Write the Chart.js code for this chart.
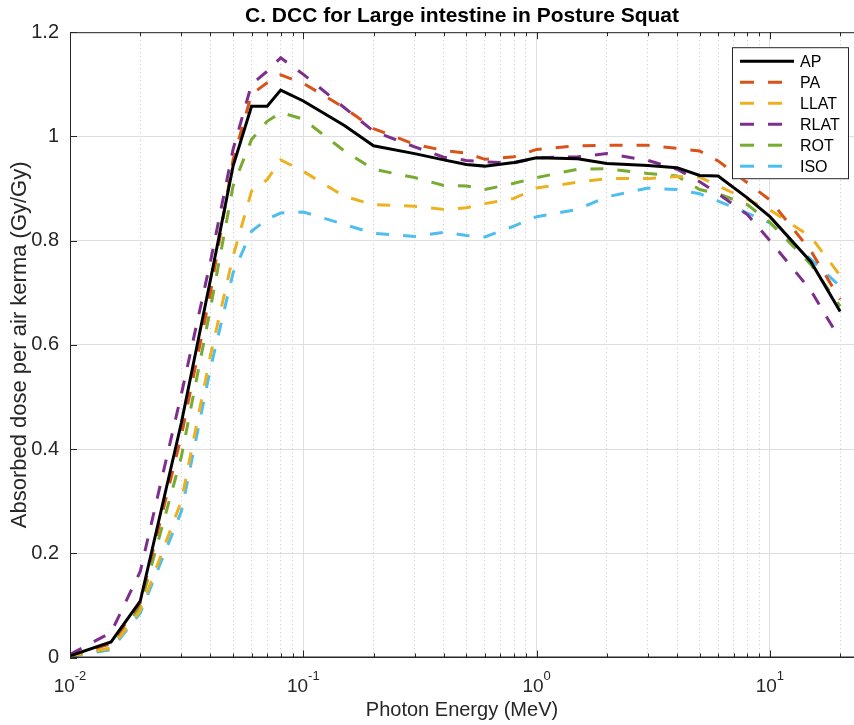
<!DOCTYPE html>
<html>
<head>
<meta charset="utf-8">
<title>DCC Large intestine - Squat</title>
<script src="https://cdn.jsdelivr.net/npm/chart.js@4.4.1/dist/chart.umd.min.js"></script>
<style>
  html, body { margin: 0; padding: 0; background: #ffffff; }
  #wrap { width: 854px; height: 725px; }
</style>
</head>
<body>
<div id="wrap"><canvas id="dccChart" width="854" height="725"></canvas></div>
<script>
// Photon energies (MeV)
const energies = [0.01, 0.015, 0.02, 0.03, 0.04, 0.05, 0.06, 0.07, 0.08, 0.1, 0.15, 0.2, 0.3, 0.4,
                  0.5, 0.6, 0.8, 1, 1.5, 2, 3, 4, 5, 6, 8, 10, 15, 20];

// Absorbed dose per air kerma (Gy/Gy), one array per irradiation geometry
const apValues   = [0.003, 0.030, 0.108, 0.450, 0.725, 0.943, 1.058, 1.058, 1.089, 1.068, 1.021, 0.982, 0.967, 0.955,
                    0.946, 0.943, 0.950, 0.959, 0.957, 0.948, 0.944, 0.940, 0.925, 0.924, 0.882, 0.846, 0.759, 0.664];
const paValues   = [0.004, 0.026, 0.105, 0.425, 0.700, 0.955, 1.081, 1.103, 1.118, 1.102, 1.055, 1.015, 0.985, 0.973,
                    0.968, 0.956, 0.961, 0.975, 0.982, 0.983, 0.983, 0.977, 0.972, 0.953, 0.911, 0.878, 0.780, 0.687];
const llatValues = [0.003, 0.018, 0.090, 0.300, 0.580, 0.770, 0.895, 0.917, 0.955, 0.933, 0.885, 0.869, 0.866, 0.860,
                    0.863, 0.871, 0.881, 0.901, 0.912, 0.919, 0.919, 0.923, 0.922, 0.905, 0.879, 0.859, 0.807, 0.733];
const rlatValues = [0.006, 0.048, 0.165, 0.505, 0.760, 0.975, 1.100, 1.125, 1.151, 1.119, 1.055, 1.010, 0.980, 0.960,
                    0.954, 0.951, 0.949, 0.959, 0.961, 0.967, 0.954, 0.937, 0.913, 0.890, 0.850, 0.800, 0.704, 0.610];
const rotValues  = [0.003, 0.018, 0.098, 0.385, 0.670, 0.905, 0.994, 1.029, 1.046, 1.033, 0.972, 0.937, 0.921, 0.906,
                    0.905, 0.898, 0.910, 0.921, 0.937, 0.938, 0.929, 0.924, 0.898, 0.890, 0.869, 0.835, 0.754, 0.674];
const isoValues  = [0.002, 0.015, 0.085, 0.280, 0.555, 0.738, 0.818, 0.841, 0.853, 0.855, 0.831, 0.814, 0.808, 0.816,
                    0.810, 0.807, 0.828, 0.846, 0.860, 0.884, 0.901, 0.898, 0.890, 0.876, 0.853, 0.834, 0.764, 0.712];

const seriesLabels = ['AP', 'PA', 'LLAT', 'RLAT', 'ROT', 'ISO'];

// Axis ticks
const decadeTicks = [0.01, 0.1, 1, 10];
const decadeExponents = ['-2', '-1', '0', '1'];
const yTickLabels = ['0', '0.2', '0.4', '0.6', '0.8', '1', '1.2'];

const X_MIN = 0.01;
const X_MAX = 22.93;
const FONT = '"Liberation Sans", Arial, Helvetica, sans-serif';
const AXIS_COLOR = '#262626';

// minor + major positions for the log axis (1..9 per decade)
const xGridValues = [];
decadeTicks.forEach(d => {
    for (let m = 1; m <= 9; m++) {
        const v = +(m * d).toPrecision(6);
        if (v <= X_MAX) xGridValues.push(v);
    }
});

function isDecade(v) {
    const l = Math.log10(v);
    return Math.abs(l - Math.round(l)) < 1e-6;
}

function toPoints(values) {
    return energies.map((e, i) => ({ x: e, y: values[i] }));
}

const styles = [
    { color: '#000000', dash: [] },
    { color: '#D95319', dash: [13, 14] },
    { color: '#EDB120', dash: [13, 14] },
    { color: '#7E2F8E', dash: [13, 14] },
    { color: '#77AC30', dash: [13, 14] },
    { color: '#4DBEEE', dash: [13, 14] }
];
const allValues = [apValues, paValues, llatValues, rlatValues, rotValues, isoValues];

const datasets = allValues.map((vals, i) => ({
    label: seriesLabels[i],
    data: toPoints(vals),
    borderColor: styles[i].color,
    borderDash: styles[i].dash,
    borderWidth: 3,
    pointRadius: 0,
    tension: 0,
    fill: false
}));

// ticks drawn inward + top box edge, like the original axes
const axesFrame = {
    id: 'axesFrame',
    afterDatasetsDraw(chart) {
        const { ctx, chartArea, scales: { x, y } } = chart;
        ctx.save();
        ctx.strokeStyle = AXIS_COLOR;
        ctx.lineWidth = 1;
        ctx.beginPath();
        ctx.moveTo(chartArea.left, chartArea.top + 0.5);
        ctx.lineTo(chartArea.right, chartArea.top + 0.5);
        ctx.moveTo(chartArea.left + 0.5, chartArea.top);
        ctx.lineTo(chartArea.left + 0.5, chartArea.bottom);
        ctx.moveTo(chartArea.left, chartArea.bottom - 0.5);
        ctx.lineTo(chartArea.right, chartArea.bottom - 0.5);
        x.ticks.forEach(t => {
            const px = Math.round(x.getPixelForValue(t.value)) + 0.5;
            const len = isDecade(t.value) ? 7 : 4;
            ctx.moveTo(px, chartArea.bottom);
            ctx.lineTo(px, chartArea.bottom - len);
            ctx.moveTo(px, chartArea.top);
            ctx.lineTo(px, chartArea.top + len);
        });
        y.ticks.forEach(t => {
            const py = Math.round(y.getPixelForValue(t.value)) + 0.5;
            ctx.moveTo(chartArea.left, py);
            ctx.lineTo(chartArea.left + 7, py);
        });
        ctx.stroke();
        ctx.restore();
    }
};

// 10^n labels with a raised exponent
const decadeLabels = {
    id: 'decadeLabels',
    afterDraw(chart) {
        const { ctx, chartArea, scales: { x } } = chart;
        ctx.save();
        ctx.fillStyle = AXIS_COLOR;
        ctx.textAlign = 'left';
        ctx.textBaseline = 'alphabetic';
        decadeTicks.forEach((v, i) => {
            const px = x.getPixelForValue(v);
            ctx.font = '19px ' + FONT;
            const baseW = ctx.measureText('10').width;
            ctx.font = '13px ' + FONT;
            const expW = ctx.measureText(decadeExponents[i]).width;
            const left = px - (baseW + expW) / 2;
            ctx.font = '19px ' + FONT;
            ctx.fillText('10', left, chartArea.bottom + 34);
            ctx.font = '13px ' + FONT;
            ctx.fillText(decadeExponents[i], left + baseW, chartArea.bottom + 22);
        });
        ctx.restore();
    }
};

// boxed legend inside the plot, top right
const boxLegend = {
    id: 'boxLegend',
    afterDraw(chart) {
        const { ctx, chartArea } = chart;
        const boxRight = chartArea.right - 5;
        const boxLeft = boxRight - 117;
        const boxTop = chartArea.top + 15;
        const boxH = 132;
        ctx.save();
        ctx.fillStyle = '#ffffff';
        ctx.fillRect(boxLeft, boxTop, boxRight - boxLeft, boxH);
        ctx.strokeStyle = AXIS_COLOR;
        ctx.lineWidth = 1;
        ctx.strokeRect(boxLeft + 0.5, boxTop + 0.5, boxRight - boxLeft - 1, boxH - 1);
        ctx.font = '16px ' + FONT;
        ctx.textBaseline = 'middle';
        ctx.textAlign = 'left';
        chart.data.datasets.forEach((ds, i) => {
            const rowY = boxTop + 14 + i * 21;
            ctx.strokeStyle = ds.borderColor;
            ctx.lineWidth = 3;
            ctx.setLineDash(ds.borderDash.length ? [14, 14] : []);
            ctx.beginPath();
            ctx.moveTo(boxLeft + 8, rowY);
            ctx.lineTo(boxLeft + 62, rowY);
            ctx.stroke();
            ctx.setLineDash([]);
            ctx.fillStyle = '#000000';
            ctx.fillText(ds.label, boxLeft + 68, rowY + 1);
        });
        ctx.restore();
    }
};

new Chart(document.getElementById('dccChart'), {
    type: 'line',
    data: { datasets },
    options: {
        responsive: false,
        animation: false,
        events: [],
        layout: { padding: 0 },
        plugins: {
            legend: { display: false },
            tooltip: { enabled: false },
            title: {
                display: true,
                text: 'C. DCC for Large intestine in Posture Squat',
                fullSize: false,
                color: '#000000',
                font: { family: FONT, size: 21, weight: 'bold', lineHeight: 1.2 },
                padding: { top: 4, bottom: 3 }
            }
        },
        scales: {
            x: {
                type: 'logarithmic',
                min: X_MIN,
                max: X_MAX,
                afterBuildTicks: (scale) => {
                    scale.ticks = xGridValues.map(v => ({ value: v, major: isDecade(v) }));
                },
                afterFit: (scale) => { scale.height = 67.5; },
                ticks: { display: false },
                grid: {
                    drawTicks: false,
                    color: (c) => (c.tick && isDecade(c.tick.value)) ? '#dedede' : '#c8c8c8',
                    lineWidth: 1
                },
                border: {
                    display: true,
                    color: AXIS_COLOR,
                    dash: (c) => (c.tick && isDecade(c.tick.value)) ? [] : [1, 3]
                },
                title: {
                    display: true,
                    text: 'Photon Energy (MeV)',
                    color: AXIS_COLOR,
                    font: { family: FONT, size: 20 },
                    padding: { top: 0, bottom: 3 }
                }
            },
            y: {
                type: 'linear',
                min: 0,
                max: 1.2,
                afterFit: (scale) => { scale.width = 70; },
                ticks: {
                    stepSize: 0.2,
                    color: AXIS_COLOR,
                    padding: 11,
                    font: { family: FONT, size: 20 },
                    callback: (v, i) => yTickLabels[i]
                },
                grid: { drawTicks: false, color: '#dedede', lineWidth: 1 },
                border: { display: true, color: AXIS_COLOR },
                title: {
                    display: true,
                    text: 'Absorbed dose per air kerma (Gy/Gy)',
                    color: AXIS_COLOR,
                    font: { family: FONT, size: 22 },
                    padding: { top: 7, bottom: 0 }
                }
            }
        }
    },
    plugins: [axesFrame, decadeLabels, boxLegend]
});
</script>
</body>
</html>
